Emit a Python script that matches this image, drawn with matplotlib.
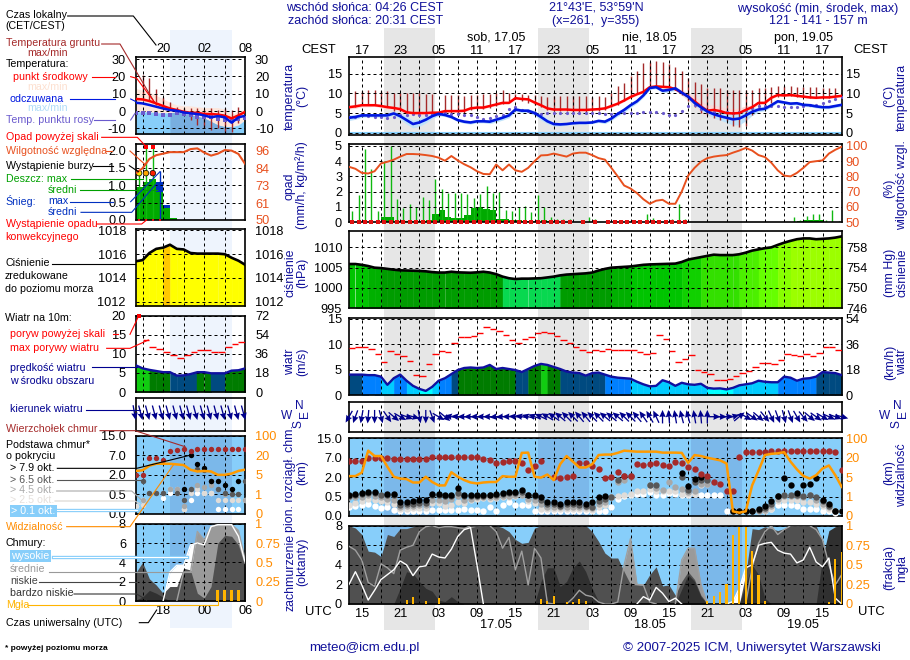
import numpy as np
import matplotlib
matplotlib.use('Agg')
import matplotlib.pyplot as plt
from matplotlib.lines import Line2D
from matplotlib.colors import ListedColormap, BoundaryNorm

nan = float('nan')
plt.rcParams['font.family'] = ['Liberation Sans', 'DejaVu Sans']

# ---------- main chart data, hourly UTC, hour 13 = 13 UTC on 16.05 ----------
hours = np.arange(13, 91)
temp_mean = [6.5,6.7,7,7,7,6.8,6.5,6.3,6,5.2,
             5,5,5,5.1,5.1,5.5,5.5,5.5,5.6,6.2,
             6.4,6.4,6.8,7.2,7.6,7.6,8.8,8.6,8.5,7.7,
             7,6.2,5.9,5.9,5.9,5.8,5.8,5.8,5.9,6,
             6.2,6.8,7.4,8.2,9.1,9.8,10.4,11.6,11.8,11.7,
             11.6,11.1,10.2,9.2,8,6.7,5.6,5.8,5.5,5,
             4.9,5,5.8,6.5,7.6,7.6,8.9,9.6,9.5,9.6,
             9.4,9.2,9,8.9,9,9,9.2,9.4]
temp_feels = [3.8,4,4.4,4.4,4.4,4.4,4.4,4.9,4.2,3.2,
              2.2,2.6,3.3,4.2,4.8,4.5,4,3.2,2.8,2.6,
              2.9,2.9,2.8,3.3,3.8,4.4,5.9,5.6,5.6,5,
              4,2.9,2.2,2.1,2.2,2.4,2.5,2.5,2.6,3,
              2.8,3.6,4.8,5.8,7,8,9.5,11.4,11.6,10.7,
              10.9,11.3,10.2,9.2,7.6,6.5,5.4,4.7,4.2,3.8,
              3.4,3.6,4.4,5.3,5.9,6.1,7,8,7.7,7.4,
              7.5,7.1,7,6.7,6.5,6.5,6.8,7.1]
temp_dew = [4,4,4.4,4.3,4,3.9,3.8,4,4.4,4.6,
            4.8,4.6,4.5,4.8,4.7,4.9,4.8,4.7,4.6,4.5,
            4.1,3.6,3.8,4.3,4.5,6,6.5,5.9,5.5,4.9,
            4.7,5,5.1,5.1,5.1,5,5,5,5,4.9,
            4.8,4.8,4.9,5,4.9,5.1,5.2,5.2,5.3,4.9,
            4.6,4.4,5.5,6.7,7,6,5.4,5.2,5.4,5.2,
            4.9,5.3,5.9,6.4,6.9,6.7,6.9,6.9,6.6,6.5,
            6.5,6.8,7.1,7.1,7.5,8.2,8.7,9]
soil_max = [nan,10.7,10.7,10.8,10.8,10.7,10.5,10.2,10,10,
            10,10,9.9,9.9,nan,9.5,9.5,9.5,9.4,9.6,
            9.6,9.8,9.8,10,11,10,9.9,9.8,9.6,9.5,
            9.4,9.2,9.3,9.3,9.3,9.3,9.3,9.3,9.2,9.3,
            9.1,10,12,12.6,14.5,15.7,17.7,18,18.3,18,
            17.6,16.7,15.7,14,13,12.3,11.5,11.4,11.3,11,
            11,10.9,10.9,11,11.3,11.5,11.6,11.8,11.9,11.9,
            11.7,11.6,11.7,11.6,11.5,11.5,11.4,nan]
soil_min = [nan,6.6,7,7,7,6.8,6.5,5.5,5.5,5,
            4.5,4.5,4.5,4.6,nan,5,5,5,5,5.7,
            6,6,6.3,6.8,7.2,8,8.5,8,7.5,7,
            6.5,5.7,5.4,5.4,5.4,5.3,5.3,5.3,5.4,5.5,
            5.8,6.5,7,8,9,9.8,10.4,11.5,11.7,11.6,
            11.5,11,9.5,8,6.5,5,4.6,3.8,3.2,3,
            1.8,1.5,1.8,4.5,6,6.5,7.6,9,9.3,9.3,
            9.2,9,8.9,8.8,8.8,8.8,9,nan]
mean_spread = [.5,.5,.4,.4,.3,.4,.5,.5,.5,.5,
               .4,.3,.3,.3,.3,.3,.3,.3,.3,.3,
               .3,.3,.3,.3,.3,.3,.3,.3,.3,.4,
               .4,.4,.3,.3,.3,.3,.3,.3,.3,.3,
               .3,.3,.3,.3,.3,.3,.3,.3,.3,.3,
               .3,.4,.7,1.0,1.3,1.5,1.5,1.3,1.2,1.2,
               1.2,1.3,1.0,.6,.4,.3,.3,.3,.3,.3,
               .3,.3,.3,.3,.3,.3,.3,.3]
feels_spread = [.7,.6,.5,.4,.4,.4,.4,.4,.8,1,
                1,1,.8,.6,.5,.4,.4,.4,.4,.4,
                .4,.4,.5,.6,.6,.6,.5,.5,.5,.6,
                .8,.6,.5,.4,.3,.3,.3,.3,.3,.4,
                .5,.5,.6,.6,.6,.5,.5,.4,.4,.5,
                .6,.5,.5,.6,.7,.8,.8,.9,1,1.2,
                1.4,1.6,1.4,.9,.6,.5,.4,.4,.4,.4,
                .4,.4,.4,.4,.4,.4,.4,.4]
rain_mean = [0,0,0,0,0,.3,.3,.05,.05,.05,
             .05,.05,.1,.5,.8,.35,.25,.25,.45,.9,
             1,.85,.8,.2,.2,.15,.1,.05,.05,0,
             .1,.05,.02,0,0,0,0,0,0,0,
             0,0,.02,.03,.02,.02,.02,.05,.03,0,
             .02,.02,.02,0,0,0,0,0,0,0,
             0,0,0,0,0,0,0,0,0,.02,
             .08,.12,.15,.15,.03,0,0,0]
rain_max = [.7,1.8,4.8,3.5,.75,4,5,1.5,.95,1.2,
            1,1.65,1.45,2.8,2.2,1.9,1.9,1.9,1.85,1.6,
            1.85,2.4,1.9,2,.8,.7,1,1.05,.65,1.8,
            1,.3,.2,.2,.2,0,0,.3,.2,0,
            0,0,0,.05,.05,.05,.5,.25,.05,0,
            .2,1.2,.2,0,0,0,0,0,0,0,
            0,0,0,0,0,0,0,0,0,.35,
            .1,.4,.5,.55,.15,.8,.05,0]
convective = [1,1,1,1,1,1,1,1,1,1,
              1,1,1,1,1,1,1,1,1,1,
              1,1,1,1,1,1,1,1,1,1,
              1,1,1,1,1,0,1,0,1,0,
              1,1,1,1,1,1,1,1,1,1,
              1,1,1,0,0,0,0,0,0,0,
              0,0,0,0,0,0,0,0,0,0,
              0,0,0,0,0,0,0,0]
humidity = [86.3,85,82.3,81.9,83.4,88.5,89.6,91,93,94.7,
            94.7,94.5,94,93.4,92.3,90.3,93.4,90.5,88,86,
            83.4,81.6,81.4,87.8,84,87.8,84,83,85.6,90,
            93.8,94,95,94,93,95,95.6,95.6,94,92,
            91,85.6,80,74,72,69,65,62,64,64.6,
            62,62,70,80.5,85.6,89.6,92,93,93.6,94,
            95.6,97,98.7,97,94,92.7,89,84,80.5,80,
            82.3,85.6,89.4,90,90.5,95,97.5,99.5]
pressure = [1005.9,1005.9,1005.7,1005.4,1005,1004.9,1004.7,1004.5,1004.35,1004.3,
            1004.25,1004.2,1004.1,1003.9,1003.8,1003.8,1004,1003.85,1003.8,1003.75,
            1003.85,1004,1003.8,1003.4,1002.8,1002.4,1002.2,1002.3,1002.3,1002.35,
            1002.4,1002.6,1002.8,1003.1,1003.3,1003.4,1003.5,1003.6,1003.8,1004.3,
            1004.7,1005,1005.1,1005.2,1005.3,1005.5,1005.7,1005.8,1005.85,1005.9,
            1005.95,1006,1006.4,1007,1007.3,1007.6,1007.9,1008.2,1008.1,1008.1,
            1008.1,1008.3,1008.7,1009.2,1009.5,1009.8,1010,1010.6,1011.15,1011.6,
            1012,1012.2,1012.2,1012,1012.1,1012.2,1012.4,1012.7]
wind = [4,4,4,3.9,3.9,3.6,2,3.3,4,2.8,
        1.8,1.2,.8,1.6,2.8,3.3,4.1,4.9,5.3,5.4,
        5.3,5.4,5.9,5.1,5.3,5.1,4.9,4.5,5.1,5.7,
        6.1,5.9,5.5,5.1,4.6,4.4,4.3,3.8,4.3,4.4,
        4,3.6,3.4,3.3,3.2,2.6,2.1,1.7,1.8,2.9,
        2.5,1.8,2.4,2.1,2,2.2,1.4,1.25,1.3,1.1,
        1.4,1.9,2.1,2.3,2.8,2.6,2.5,2.5,3.6,3.4,
        2.8,3.2,3.3,3.6,4.5,4.4,4.3,3.9]
gust = [9.2,9.4,9.4,9,8,6.45,8.55,8,7.6,6.6,
        4,3.7,6,8,8.6,8.4,10.2,11.4,11.4,11.6,
        12.2,13.4,13,12.6,11.8,10.8,10.2,11,11.4,12.2,
        12.4,12.2,11.6,10.8,10.2,9.4,8.8,8.4,8.8,8.7,
        9,8.75,8.8,8.8,8.8,8.4,8,8.2,11.8,11,
        8.6,6.45,7,7.8,4.9,4.5,4.1,2.9,2.9,3.1,
        3.7,4.3,4.7,5.5,6.25,6.25,6.05,6.8,8,7.8,
        7.6,8,7.6,8.2,9.4,9.4,8.8,8.6]
wind_dir = [30,20,10,5,0,345,325,310,300,290,
            285,350,0,340,300,310,100,95,90,90,
            90,90,90,85,85,90,95,100,105,110,
            115,120,125,130,135,135,140,140,135,135,
            130,130,130,135,135,140,145,150,155,180,
            175,170,165,165,170,175,180,270,270,265,
            255,230,300,305,310,320,335,340,345,340,
            330,320,310,305,300,295,290,285]
cloud_top = [6.1,6.1,6.1,7,7,7,7,6.7,6.7,6.7,
             6.7,6.7,6.8,7.3,7.3,7.3,7.3,7.3,7.3,7.4,
             7.3,6.7,6.3,5.7,5.9,6.1,6.1,5.7,3.9,4.8,
             6.1,nan,2.1,1.9,2.1,2.4,5.6,5.6,4.8,4.1,
             1.9,2.1,3.4,2.4,2.4,5.4,5,5.5,5.7,5,
             4.9,5.8,5.6,4.6,4,2.8,2.3,1.6,1.45,.9,
             .9,7.3,9.3,9.3,9.5,9.5,9.9,9.9,9.9,9.9,
             9.9,9.9,9.9,9.9,9.9,9.9,9.3,3.9]
base_79 = [.66,.71,.81,.86,.86,nan,.71,.71,.35,.36,
           .38,.41,.41,.71,.71,.6,.66,1.17,.66,.66,
           .66,.66,.66,.71,.81,.86,.86,1.02,.66,.6,
           .5,.36,.36,.31,.36,.36,.35,.31,.36,.48,
           .55,nan,nan,nan,nan,nan,nan,nan,nan,nan,
           nan,nan,3,1.3,1.82,2.1,nan,nan,nan,nan,
           .12,.12,.12,.13,.19,.25,.38,.55,1.95,1.4,
           .75,1.4,1.5,1.95,.41,.32,.13,.13]
base_65 = [.58,.6,.7,.75,.75,.6,.6,.6,.28,.3,
           .32,.34,.34,.6,.6,.52,.58,.8,.58,.58,
           .58,.58,.6,.62,.7,.75,.75,.85,.6,.55,
           .4,.3,.3,.26,.3,.3,.29,.26,.24,.38,
           .45,.5,1.8,2.4,2.4,nan,nan,1.4,1.4,nan,
           nan,nan,2.1,1.0,1.6,1.8,1.8,nan,nan,nan,
           .12,.12,.12,.13,.16,.2,.32,.52,.62,.62,
           .62,.55,.65,.48,.38,.27,.13,.13]
base_45 = [.5,.5,.5,.6,.55,.5,.45,.4,.24,.25,
           .27,.28,.28,.4,.4,.38,.45,.55,.42,.45,
           .5,.5,.5,.5,.55,.55,.6,.6,.45,.4,
           .3,.24,.24,.22,.24,.24,.24,.22,.2,.3,
           .35,.5,1.6,1.75,2.1,nan,nan,1.4,1.2,1,
           1.6,1.25,1.05,.85,.9,1.5,1.5,nan,nan,nan,
           .12,.12,.12,.12,.14,.16,.25,.45,.55,.55,
           .55,.5,.6,.42,.3,.22,.12,.12]
base_25 = [.28,.33,.39,.44,.4,.39,.37,.31,.19,.19,
           .2,.21,.21,.33,.33,.27,.28,.35,.33,.41,
           .45,.46,.45,.46,.5,.5,.55,.6,.38,.33,
           .19,.18,.18,.17,.18,.18,.18,.17,.16,.22,
           .28,.5,.52,.6,.72,.9,.95,1.1,.9,.9,
           .9,.9,.72,.72,.72,1.4,1.45,nan,nan,nan,
           .12,.12,.12,.12,.13,.14,.18,.38,.41,.41,
           .41,.35,.35,.3,.25,.18,.12,.12]
base_01 = [.23,.26,.28,.31,.25,.21,.23,.15,.12,.12,
           .12,.12,.12,.15,.15,.15,.15,.15,.17,.15,
           .15,.14,.23,.12,.28,.36,.29,.28,.28,.12,
           .12,.12,.12,.12,.12,.12,.12,.12,.12,.12,
           .12,.23,.43,.55,.6,.73,.73,.86,.6,.6,
           .76,.73,.66,.66,.71,.66,.66,.66,.66,.13,
           .13,.13,nan,nan,nan,.17,.19,.28,.29,.29,
           .26,.19,.19,.17,.14,.14,.09,nan]
visibility = [5.8,5.8,8.5,49,27,27,13,5.3,4.7,4.6,
              3.9,3.9,5.3,4,3.3,3.3,8.8,5.3,4.4,3.9,
              3.7,3.9,4,4,5.8,5.3,5.3,40,41,5.3,
              4.9,7,4.4,15,27,17,12.5,12.5,15,31,
              33,33,40,49,47,45,45,45,45,41,
              41,41,40,16,31,27,20,19,18,15.5,
              .24,.17,.24,3.3,10,31,36,38,43,17,
              11,6,4.7,6.5,11.7,14,6.5,3]
cover_high = [2,3.3,1.95,.4,1.4,2.5,3,3.5,4.4,4,
              2.9,3.8,3.9,5.1,4.8,4.7,5.6,6.9,7.6,7.8,
              4,0,0,0,0,0,0,0,0,0,
              0,0,0,0,0,0,0,0,0,0,
              0,0,0,0,0,0,.75,.4,1.7,1.1,
              .25,.6,0,0,0,0,0,0,0,0,
              .25,1.6,3.7,4,6,6.2,6.3,5.5,5.2,5.1,
              4.2,4.5,5.8,4.3,3.8,4.7,.6,0]
cover_mid = [5.9,5.5,4.5,2.2,1.8,4.1,3.7,3.1,5.5,5.8,
             6,7.4,7.9,8,7.8,7.9,7.9,7.8,7.7,8,
             8,8,8,7.4,5.7,6.8,3.5,5.4,1.95,5.7,
             4.7,.1,0,0,0,.6,1.4,.9,.75,.2,
             0,0,.2,4,6.7,2,1.95,.2,0,0,
             0,0,4.5,5.7,5.7,2,0,0,0,0,
             0,0,0,3.7,6.2,7.4,8,7.1,7.6,8,
             8,8,8,7.6,6.6,4,1.95,3]
cover_low = [8,7.76,7.1,5.4,5.3,4.85,7.1,6.9,7.7,7.7,
             7.9,8,8,8,8,8,8,8,8,7.8,
             7.95,8,8,8,7.8,7.4,6.6,6.2,6.3,7.76,
             8,8,8,8,8,8,8,8,7.4,6.4,
             5.2,4.7,4.7,3.3,2,1.95,1.9,3,3.8,1.85,
             1.95,.9,2.3,3.3,2.5,.9,.05,0,0,0,
             0,0,3,7.7,7.6,7.9,7.7,7.5,7.7,8,
             8,8,8,8,6.4,4.7,7.1,7.9]
cover_vlow = [0,0,0,0,0,0,0,0,1.6,3.3,
              3.1,2.3,1.6,1.3,.4,.25,.75,.25,0,0,
              0,0,0,0,0,0,0,0,0,0,
              2.3,3.7,3.7,1.8,2.3,3.7,4.4,3.3,1.6,.25,
              0,0,0,0,0,0,0,0,0,0,
              0,0,1.5,3,2.3,.75,0,0,0,0,
              0,0,2,4,3,.6,0,0,0,0,
              0,0,0,0,4.7,7.5,7.9,8]
fog = [0,0,0,0,0,0,0,0,0,.05,
       .09,0,.04,0,.08,0,0,0,0,0,
       0,0,0,0,0,0,0,0,0,0,
       .07,.04,.1,0,.02,.03,.07,.04,0,0,
       0,0,0,0,0,0,0,0,0,0,
       0,0,0,0,0,0,.04,.1,.15,.25,
       .88,.98,.98,.68,.37,.04,0,0,0,0,
       0,0,0,0,0,.03,.58,.67]
main_ticks = [15, 21, 27, 33, 39, 45, 51, 57, 63, 69, 75, 81, 87]
local_labels = ['17','23','05','11','17','23','05','11','17','23','05','11','17']
utc_labels = ['15','21','03','09','15','21','03','09','15','21','03','09','15']
nights = [(18.52, 26.43), (42.52, 50.45), (66.5, 74.45)]

# ---------- left (legend) chart data, hourly UTC ----------
l_hours = np.arange(14, 31)
l_temp = [7,6.7,5.8,4.4,2.9,1.5,.6,-.4,-1,-1,-1.7,-1.7,-2,-2.7,-4.2,-2.5,-.4]
l_feels = [4.8,4.4,3.5,2.5,1.5,.6,.2,-.8,-1.3,-1.7,-2.5,-3.6,-2.9,-3.6,-6.7,-3.6,-2.7]
l_dew = [-1.3,-1.3,-1.3,-1.7,-2.3,-2.3,-1.3,-1.7,-2.3,-3.6,-3.6,-3.6,-4.8,-5.2,-5.6,-4.8,-3.8]
l_temp_top = [13,12,11,9,7,5,3.5,3,3,2.5,2,2,2,1,-2,0,1]
l_feels_top = [-.4,-.4,-.4,-1,-1,-1,-.5,-1.5,-2,-3,-4,-6,-8,-9,-9,-8,-5]
l_soil_hours = [15,16,17,18,19,20,21,22,23,24,25,26,27,28,29]
l_soil_max = [20.8,18.8,13,8.3,5.4,2.5,2,2,1.6,1.4,1.6,.6,1.6,.6,2.5]
l_soil_min = [7,6,5,3,1.5,.5,-.5,-5,-8,-10,-11,-10,-13,-12,-7]
l_rain_mean = [.94,1.1,1.17,.82,.34,.05,0,0,0,0,0,0,0,0,0,0,0]
l_snow_mean = [0,0,0,.28,.09,0,0,0,0,0,0,0,0,0,0,0,0]
l_rain_max = [1.35,2.1,2.1,0,0,0,0,0,0,0,0,0,0,0,0,0,0]
l_snow_max = [0,0,0,1.4,0,0,0,0,0,0,0,0,0,0,0,0,0]
l_overscale = [15.5, 16.5]
l_storm_hours = [14.5, 15.5, 16.5]
l_storm_cols = ['#ffe000', '#ffa500', '#ff2000']
l_conv_hours = [14.5, 15.5, 16.5, 17.5]
l_humidity = [81,84.3,90.5,93,94,95,95,95,97,97.5,94.7,92.7,94,96.4,96,93.8,87]
l_pressure = [1015.4,1015.5,1016.1,1016.45,1016.55,1016.8,1016.45,1016.4,1016.1,1016.05,
              1016.05,1016.05,1016.05,1016,1015.7,1015.45,1015.1]
l_wind = [7,6.2,5.8,5.5,5.2,5.2,4.3,4.35,4.7,5.2,5.2,4.9,4.9,4.9,5.6,5.7,6.2]
l_gust = [nan,13.5,11.8,11.4,10.6,9.7,8.9,9.8,10.6,10.9,10.9,10.6,10.6,11.8,12.7,13,nan]
l_gust_over = [14.5]
l_dir = [350,345,345,345,345,345,345,345,345,345,345,345,345,345,345,345,345]
l_top = [2,2,6.3,6.3,5.9,8.6,9.3,9.7,8.6,9.5,9.5,9.5,9.5,9.5,9.5,9.5,9.5]
l_79 = [nan,nan,nan,nan,nan,nan,nan,.9,7,4.8,3.7,1.5,1.5,1.25,.9,1.5,nan]
l_65 = [nan,1.5,.6,.6,.6,nan,.6,.36,.9,3.5,3.3,1.5,.9,.6,.5,.5,1.5]
l_45 = [nan,.36,.6,.6,.6,.9,.9,.2,.9,1.25,1.1,1.25,.95,.55,.5,.5,.36]
l_25 = [.2,.23,nan,nan,nan,.9,.9,.14,.6,.9,.6,.6,.36,.36,.36,.36,.36]
l_01 = [.2,.36,nan,nan,.4,.6,.6,.12,.36,.6,.6,.6,.12,.12,.12,.12,nan]
l_vis = [8,8.5,12,13.5,13.5,13.5,13,12.5,8.9,7.6,8,7.6,5,5,6,8,9]
l_high = [0,0,0,0,0,3,3.7,3.7,5.8,6,5.8,7.7,7.9,7.9,7.9,6.7,3.9]
l_mid = [0,0,0,0,0,0,0,3,3,7.2,6.3,7.7,7.9,7.9,7.9,7.3,4.2]
l_low = [2.9,4,2.3,1.65,.8,1.5,1.5,3.4,3.2,.8,.3,1.5,6,6.8,6.7,5.8,3.5]
l_vlow = [.1,.4,1.1,.8,.4,0,0,0,0,0,0,0,0,0,0,0,0]
l_fog = [0,0,0,0,0,0,0,0,0,0,0,0,.14,.14,.14,.14,0]
l_ticks = [18, 24, 30]
l_local = ['20', '02', '08']
l_utc = ['18', '00', '06']
l_night = (19, 28)

# ---------- helpers ----------
W, H = 910, 660
fig = plt.figure(figsize=(W/100, H/100), dpi=100, facecolor='white')
NAVY = '#10109a'
RED = '#ff0000'
BROWN = '#a52a2a'
ORANGERED = '#e8501e'
ORANGE = '#ff8c00'
PURPLE = '#6a5acd'
SKY = '#87cefa'
SKY_NIGHT = '#7bb8ea'
TS = 9.2

def T(x, y, s, c='k', size=7.7, ha='left', rot=0, **kw):
    fig.text(x/W, 1-y/H, s, color=c, fontsize=size, ha=ha, va='center', rotation=rot, zorder=5, **kw)

def L(pts, c, dy=0, lw=.8):
    xs = [p[0]/3/W for p in pts]
    ys = [1-(p[1]/3+dy)/H for p in pts]
    fig.add_artist(Line2D(xs, ys, color=c, lw=lw, transform=fig.transFigure, zorder=4))

def panel(box, xlim, ylim, xticks, yticks=None, ylabels=None, pad=5):
    l, t, r, b = box
    ax = fig.add_axes([l/W, 1-b/H, (r-l)/W, (b-t)/H])
    ax.patch.set_visible(False)
    ax.set_xlim(*xlim)
    ax.set_ylim(*ylim)
    ax.set_xticks(xticks)
    ax.set_xticklabels([])
    if yticks is not None:
        ax.set_yticks(yticks, ylabels if ylabels else [str(v) for v in yticks])
    else:
        ax.set_yticks([])
    ax.tick_params(length=0, labelsize=TS, pad=pad)
    ax.set_axisbelow(False)
    ax.grid(True, color='k', lw=.72, ls=(0, (3, 3)))
    for s in ax.spines.values():
        s.set_linewidth(1.2)
    return ax

def right(ax, ylim, ticks, labels, color='k', pad=3):
    tw = ax.twinx()
    tw.patch.set_visible(False)
    tw.set_ylim(*ylim)
    tw.set_yticks(ticks, labels)
    tw.tick_params(length=0, labelsize=TS, pad=pad, labelcolor=color)
    tw.grid(False)
    for s in tw.spines.values():
        s.set_visible(False)
    return tw

def colored_fill(ax, t, v, base, bounds, colors):
    t = np.asarray(t); v = np.asarray(v, float)
    cmap = ListedColormap(colors)
    norm = BoundaryNorm(bounds, len(colors))
    for i in range(len(t)-1):
        c = cmap(norm((v[i]+v[i+1])/2))
        ax.fill_between(t[i:i+2], v[i:i+2], base, color=c, lw=.3, zorder=1)

def arrows(ax, t, deg, pivot, y, length):
    d = np.deg2rad(np.asarray(deg, float))
    ax.quiver(t, np.full(len(t), y), -np.sin(d), -np.cos(d), angles='uv', units='dots',
              scale_units='dots', scale=1/length, width=1.3, headwidth=5, headlength=5.5,
              headaxislength=5, pivot=pivot, color='#00008b', clip_on=False, zorder=3)

km_pts = [0, .5, 2, 7, 15]
vis_pts = [0, 1, 5, 20, 100]
idx_pts = [0, 1, 2, 3, 4]
def f_km(v): return np.interp(v, km_pts, idx_pts)
def g_km(v): return np.interp(v, idx_pts, km_pts)
def f_vis(v): return np.interp(v, vis_pts, idx_pts)
def g_vis(v): return np.interp(v, idx_pts, vis_pts)

def cover_draw(ax, t, hi, mi, lo, vl):
    t = np.asarray(t)
    ax.set_facecolor(SKY); ax.patch.set_visible(True)
    ax.fill_between(t, 0, hi, color='white', lw=0, zorder=1.1)
    ax.fill_between(t, 0, mi, color='#9a9a9a', lw=0, zorder=1.2)
    ax.fill_between(t, 0, lo, color='#505050', lw=0, zorder=1.3)
    ax.fill_between(t, 0, vl, color='#303030', lw=0, zorder=1.4)
    for arr, c in ((mi, '#a0a0a0'), (hi, 'white')):
        a = np.asarray(arr, float)
        keep = (a > 0) | (np.r_[a[1:], 0] > 0) | (np.r_[0, a[:-1]] > 0)
        ax.plot(t, np.where(keep, a, nan), color=c, lw=1, zorder=3)

def base_draw(ax, t, series, s):
    for vals, c in zip(series, ['white', '#e0dcd8', '#a8a8a8', '#585858', 'black', BROWN]):
        ax.scatter(t, vals, s=s, color=c, lw=0, zorder=3)

# ---------- background night bands ----------
bg = fig.add_axes([349/W, 1-630/H, (841.7-349)/W, 602/H]); bg.set_xlim(13, 90); bg.axis('off')
for a, b in nights:
    bg.axvspan(a, b, color='#e6e6e6', lw=0)
bgl = fig.add_axes([135.7/W, 1-628/H, (245.3-135.7)/W, 598/H]); bgl.set_xlim(14, 30); bgl.axis('off')
bgl.axvspan(*l_night, color='#eef4fd', lw=0)

# ---------- main panels ----------
X = (13, 90)
g3 = list(range(15, 90, 3))
RX0, RX1 = 349, 841.7

# temperature
ax = panel((RX0, 57, RX1, 135), X, (-.6, 19.3), g3, [0, 5, 10, 15])
tm, tf, sm = np.array(temp_mean), np.array(temp_feels), np.array(mean_spread)
fs = np.array(feels_spread)
ax.fill_between(hours, tm-sm, tm+sm, color='#fcd9d9', lw=0, zorder=1)
ax.fill_between(hours, tf-fs, tf+fs, color='#bfe3fb', lw=0, zorder=1.1)
ax.axhline(0, color=SKY, lw=1.5, zorder=1)
ax.vlines(hours, soil_min, soil_max, color=BROWN, lw=1, zorder=2.2)
ax.plot(hours, temp_dew, ls='', marker='o', ms=2.3, color=PURPLE, mew=0, zorder=3)
ax.plot(hours, temp_mean, color=RED, lw=1.8, zorder=3.1)
ax.plot(hours, temp_feels, color='#0018e0', lw=1.9, zorder=3.2)
right(ax, (-.6, 19.3), [0, 5, 10, 15], ['0', '5', '10', '15'])
sec = ax.secondary_xaxis('top')
sec.set_xticks(main_ticks, local_labels)
sec.tick_params(length=0, labelsize=9.2, pad=0)
sec.spines['top'].set_visible(False)

# precipitation
rt = 5.11
ax = panel((RX0, 144.3, RX1, 222), X, (0, rt), g3, [0, 1, 2, 3, 4, 5])
ax.bar(hours, rain_mean, width=1, align='edge', color='#00aa00', lw=0, zorder=1)
ax.vlines(hours+.5, 0, rain_max, color='#10b810', lw=1, zorder=1.5)
ax.scatter(hours[np.array(convective) > 0]+.5, np.zeros(int(np.sum(convective))), s=5, marker='s',
           color='#e01010', lw=0, zorder=4, clip_on=False)
tw = right(ax, (50, 50+rt*10), [50, 60, 70, 80, 90, 100], ['50', '60', '70', '80', '90', '100'], ORANGERED)
tw.plot(hours, humidity, color=ORANGERED, lw=1.4)

# pressure
p_bounds = [990, 1003, 1004.9, 1005.4, 1006.3, 1007.5, 1008.5, 1009.5, 1010.4, 1011.5, 1013, 1016.65, 1020]
p_colors = ['#08d850', '#009c00', '#00b000', '#00c400', '#10d000', '#33e000', '#4cf000', '#66ff00',
            '#88ff00', '#9cff00', '#ffff00', '#ffc800']
pyl = (995, 1014.1)
ax = panel((RX0, 230.7, RX1, 308.3), X, pyl, g3, [995, 1000, 1005, 1010])
colored_fill(ax, hours, pressure, 995, p_bounds, p_colors)
ax.plot(hours, pressure, color='k', lw=1.9, zorder=3)
right(ax, pyl, [995, 1000, 1005, 1010], ['746', '750', '754', '758'])

# wind
w_bounds = [0, 1.5, 3, 4, 5, 6, 40]
w_colors = ['#00ffff', '#00ccff', '#0080ff', '#004a80', '#007c00', '#11cc11']
wyl = (0, 15.05)
ax = panel((RX0, 318.3, RX1, 395), X, wyl, g3, [0, 5, 10, 15])
colored_fill(ax, hours, wind, 0, w_bounds, w_colors)
ax.plot(hours, wind, color='#1010a0', lw=1.7, zorder=3)
ax.hlines(gust, hours, hours+1, color=RED, lw=1, zorder=3)
right(ax, wyl, [0, 5, 10, 15], ['0', '18', '36', '54'])

# wind direction
ax = panel((RX0, 401.7, RX1, 431.7), X, (-1, 1), g3)
ax.set_yticks([])
arrows(ax, hours, wind_dir, 'mid', 0, 13.5)

# cloud base / visibility
ax = panel((RX0, 438.3, RX1, 516), X, (0, 15), g3)
ax.set_yscale('function', functions=(f_km, g_km))
ax.set_yticks(km_pts, ['0.0', '0.5', '2.0', '7.0', '15.0'])
ax.minorticks_off()
ax.set_ylim(0, 15)
ax.set_facecolor(SKY); ax.patch.set_visible(True)
for a, b in nights:
    ax.axvspan(a, b, color=SKY_NIGHT, lw=0, zorder=.5)
base_draw(ax, hours, [base_01, base_25, base_45, base_65, base_79, cloud_top], 21)
tw = right(ax, (0, 100), [0, 1], ['0', '1'], ORANGE)
tw.set_yscale('function', functions=(f_vis, g_vis))
tw.set_yticks(vis_pts, ['0', '1', '5', '20', '100'])
tw.minorticks_off()
tw.set_ylim(0, 100)
tw.plot(hours, visibility, color='#ff9a00', lw=1.8)

# cloud cover / fog
ax = panel((RX0, 525.7, RX1, 604), X, (0, 8), g3, [0, 2, 4, 6, 8])
cover_draw(ax, hours, cover_high, cover_mid, cover_low, cover_vlow)
for a, b in nights:
    ax.axvspan(a, b, color=SKY_NIGHT, lw=0, zorder=.5)
ax.set_xticks(main_ticks + [t for t in g3 if t not in main_ticks])
ax.set_xticklabels(utc_labels + ['']*(len(g3)-len(main_ticks)))
ax.tick_params(axis='x', labelsize=9.2, pad=3)
tw = right(ax, (0, 1), [0, .25, .5, .75, 1], ['0', '0.25', '0.5', '0.75', '1'], ORANGE)
tw.bar(hours, fog, width=.32, color='#ffb400', lw=0)

# ---------- left panels ----------
LX = (14, 30)
LL, LR = 135.7, 245.3
lg = [15, 18, 21, 24, 27]
ly = (-13.4, 31)
ax = panel((LL, 57.3, LR, 134.3), LX, ly, lg, [-10, 0, 10, 20, 30], pad=7)
ax.fill_between(l_hours, l_feels_top, l_temp_top, color='#fde6dc', lw=0, zorder=1)
ax.fill_between(l_hours, -13.4, l_feels_top, color=SKY, lw=0, zorder=1.1)
ax.fill_between(l_hours, -13.4, l_feels_top, where=(l_hours >= l_night[0]) & (l_hours <= l_night[1]),
                color='#78aee0', lw=0, zorder=1.2)
ax.vlines(l_soil_hours, l_soil_min, l_soil_max, color=BROWN, lw=1, zorder=2.2)
ax.scatter(l_hours, l_dew, s=7, marker='s', color=PURPLE, lw=0, zorder=3)
ax.plot(l_hours, l_temp, color=RED, lw=1.8, zorder=3.1)
ax.plot(l_hours, l_feels, color='#0018e0', lw=1.8, zorder=3.2)
right(ax, ly, [-10, 0, 10, 20, 30], ['-10', '0', '10', '20', '30'], pad=7)
sec = ax.secondary_xaxis('top')
sec.set_xticks(l_ticks, l_local)
sec.tick_params(length=0, labelsize=9.2, pad=1.5)
sec.spines['top'].set_visible(False)

ry = (0, 2.2)
ax = panel((LL, 143.7, LR, 220), LX, ry, lg, [0, .5, 1, 1.5, 2], ['0.0', '0.5', '1.0', '1.5', '2.0'], pad=7)
ax.bar(l_hours, l_rain_mean, width=1, align='edge', color='#00aa00', lw=0, zorder=1)
ax.bar(l_hours, l_snow_mean, bottom=l_rain_mean, width=1, align='edge', color='#0030c0', lw=0, zorder=1)
ax.vlines(l_hours+.5, 0, l_rain_max, color='#10b810', lw=1, zorder=1.5)
ax.vlines(l_hours+.5, 0, l_snow_max, color='#0030c0', lw=1, zorder=1.5)
ax.scatter(l_overscale, [2.1]*len(l_overscale), s=8, marker='s', color=RED, lw=0, zorder=4)
ax.scatter(l_storm_hours, [1.35]*3, s=16, c=l_storm_cols, edgecolors='k', linewidths=.5, zorder=4)
ax.scatter(l_conv_hours, [0]*4, s=4, marker='s', color='#e01010', lw=0, zorder=4, clip_on=False)
tw = right(ax, (50, 50+2.2*23), [50, 61, 73, 84, 96], ['50', '61', '73', '84', '96'], ORANGERED, pad=7)
tw.plot(l_hours, l_humidity, color=ORANGERED, lw=1.5)

py = (1011.63, 1018.1)
ax = panel((LL, 229.3, LR, 306), LX, py, lg, [1012, 1014, 1016, 1018], pad=7)
colored_fill(ax, l_hours, l_pressure, 1011.63, p_bounds, p_colors)
ax.plot(l_hours, l_pressure, color='k', lw=1.9, zorder=3)
right(ax, py, [1012, 1014, 1016, 1018], ['1012', '1014', '1016', '1018'], pad=7)

wy = (0, 20)
ax = panel((LL, 315.7, LR, 392), LX, wy, lg, [0, 5, 10, 15, 20], pad=7)
colored_fill(ax, l_hours, l_wind, 0, w_bounds, w_colors)
ax.plot(l_hours, l_wind, color='#1010a0', lw=1.7, zorder=3)
ax.hlines(l_gust, l_hours, l_hours+1, color=RED, lw=1, zorder=3)
ax.scatter(l_gust_over, [19.8], s=7, marker='s', color=RED, lw=0, zorder=4, clip_on=False)
right(ax, wy, [0, 5, 10, 15, 20], ['0', '18', '36', '54', '72'], pad=7)

ax = panel((LL, 398.3, LR, 430.7), LX, (-1, 1), lg)
ax.set_yticks([])
arrows(ax, l_hours, l_dir, 'tip', -.34, 15)

ax = panel((LL, 435.7, LR, 514), LX, (0, 15), lg)
ax.set_yscale('function', functions=(f_km, g_km))
ax.set_yticks(km_pts, ['0.0', '0.5', '2.0', '7.0', '15.0'])
ax.minorticks_off()
ax.set_ylim(0, 15)
ax.tick_params(pad=7)
ax.set_facecolor(SKY); ax.patch.set_visible(True)
ax.axvspan(*l_night, color=SKY_NIGHT, lw=0, zorder=.5)
base_draw(ax, l_hours, [l_01, l_25, l_45, l_65, l_79, l_top], 15)
tw = right(ax, (0, 100), [0, 1], ['0', '1'], ORANGE, pad=7)
tw.set_yscale('function', functions=(f_vis, g_vis))
tw.set_yticks(vis_pts, ['0', '1', '5', '20', '100'])
tw.minorticks_off()
tw.set_ylim(0, 100)
tw.plot(l_hours, l_vis, color='#ff9a00', lw=1.8)

ax = panel((LL, 523.7, LR, 601), LX, (0, 8), lg, [0, 2, 4, 6, 8], pad=7)
cover_draw(ax, l_hours, l_high, l_mid, l_low, l_vlow)
ax.axvspan(*l_night, color=SKY_NIGHT, lw=0, zorder=.5)
extra = [t for t in lg if t not in l_ticks]
ax.set_xticks(l_ticks + extra)
ax.set_xticklabels(l_utc + ['']*len(extra))
ax.tick_params(axis='x', labelsize=9.2, pad=3)
tw = right(ax, (0, 1), [0, .25, .5, .75, 1], ['0', '0.25', '0.5', '0.75', '1'], ORANGE, pad=7)
tw.bar(l_hours, l_fog, width=.42, color='#ffb400', lw=0)

# ---------- header and footer ----------
T(286, 8, 'wschód słońca: 04:26 CEST', NAVY, 9)
T(288, 21, 'zachód słońca: 20:31 CEST', NAVY, 9)
T(596, 8, "21°43'E, 53°59'N", NAVY, 9, ha='center')
T(596, 21, '(x=261,  y=355)', NAVY, 9, ha='center')
T(818, 9, 'wysokość (min, środek, max)', NAVY, 9, ha='center')
T(818, 21, '121 - 141 - 157 m', NAVY, 9, ha='center')
for tt, s in ((36, 'sob, 17.05'), (60, 'nie, 18.05'), (84, 'pon, 19.05')):
    T(361.7+6.4*(tt-15), 38, s, 'k', 9, ha='center')
for tt, s in ((36, '17.05'), (60, '18.05'), (84, '19.05')):
    T(361.7+6.4*(tt-15), 625, s, 'k', 9.2, ha='center')
T(319, 50, 'CEST', 'k', 9.4, ha='center'); T(871, 50, 'CEST', 'k', 9.4, ha='center')
T(318, 612, 'UTC', 'k', 9.4, ha='center'); T(871, 612, 'UTC', 'k', 9.4, ha='center')
T(309, 648, 'meteo@icm.edu.pl', NAVY, 9.5)
T(623, 648, '© 2007-2025 ICM, Uniwersytet Warszawski', NAVY, 9.6)
T(5, 648, '* powyżej poziomu morza', 'k', 6.0, fontweight='bold')

# axis titles
for x, y, s in ((290, 96, 'temperatura'), (302.5, 96, '(°C)'),
                (290, 186, 'opad'), (302, 185, '(mm/h, kg/m²/h)'),
                (290, 273, 'ciśnienie'), (302, 273, '(hPa)'),
                (290, 362, 'wiatr'), (302, 362, '(m/s)'),
                (290, 479, 'pion. rozciągł. chm.'), (302, 473, '(km)'),
                (290, 572, 'zachmurzenie'), (302, 562, '(oktanty)'),
                (889, 96, '(°C)'), (902, 97, 'temperatura'),
                (889, 188, '(%)'), (902, 185, 'wilgotność wzgl.'),
                (890, 273, '(mm Hg)'), (902, 273, 'ciśnienie'),
                (890, 362, '(km/h)'), (902, 362, 'wiatr'),
                (889, 473, '(km)'), (902, 475, 'widzialność'),
                (889, 567, '(frakcja)'), (902, 568, 'mgła')):
    T(x, y, s, NAVY, 8.9, ha='center', rot=90)
for dx in (0, 598):
    T(287+dx, 416, 'W', NAVY, 8.6, ha='center')
    T(299+dx, 406, 'N', NAVY, 8.6, ha='center')
    T(305+dx, 414, 'E', NAVY, 8.6, ha='center', rot=90)
    T(298+dx, 424, 'S', NAVY, 8.6, ha='center', rot=90)

# legend texts
LX0 = 5.7
for x, y, s, c in ((LX0, 14.7, 'Czas lokalny', 'k'), (LX0, 26, '(CET/CEST)', 'k'),
                   (LX0, 42.7, 'Temperatura gruntu', BROWN), (27.3, 52.7, 'max/min', BROWN),
                   (LX0, 64, 'Temperatura:', 'k'), (12.7, 76.7, 'punkt środkowy', RED),
                   (27.3, 86.7, 'max/min', '#fde0d0'), (9.7, 98.7, 'odczuwana', '#0018e0'),
                   (27.3, 108, 'max/min', '#b0dcf8'), (LX0, 120, 'Temp. punktu rosy', PURPLE),
                   (LX0, 137.3, 'Opad powyżej skali', RED), (LX0, 151, 'Wilgotność względna', ORANGERED),
                   (LX0, 165.7, 'Wystąpienie burzy', 'k'), (LX0, 179, 'Deszcz: max', '#00a000'),
                   (48, 190, 'średni', '#00a000'), (LX0, 201, 'Śnieg:', '#0030c0'),
                   (48, 201, 'max', '#0030c0'), (48, 212, 'średni', '#0030c0'),
                   (LX0, 224, 'Wystąpienie opadu', RED), (LX0, 237, 'konwekcyjnego', RED),
                   (5, 263, 'Ciśnienie', 'k'), (5, 276, 'zredukowane', 'k'), (5, 289, 'do poziomu morza', 'k'),
                   (5, 318, 'Wiatr na 10m:', 'k'), (9.7, 334, 'poryw powyżej skali', RED),
                   (9.7, 348, 'max porywy wiatru', RED), (9.7, 368, 'prędkość wiatru', '#000090'),
                   (9.7, 381, 'w środku obszaru', '#000090'), (9.7, 409, 'kierunek wiatru', '#000090'),
                   (LX0, 429, 'Wierzchołek chmur', BROWN), (LX0, 444.7, 'Podstawa chmur*', 'k'),
                   (LX0, 455.7, 'o pokryciu', 'k'), (10, 468.3, '> 7.9 okt.', 'k'),
                   (10, 479.7, '> 6.5 okt.', '#555555'), (10, 490, '> 4.5 okt.', '#aaaaaa'),
                   (10, 500, '> 2.5 okt.', '#e5e0dc'), (LX0, 526.7, 'Widzialność', ORANGE),
                   (LX0, 543.3, 'Chmury:', 'k'), (10, 569, 'średnie', '#999999'),
                   (10, 581, 'niskie', '#444444'), (10, 593, 'bardzo niskie', '#333333'),
                   (LX0, 605, 'Mgła', '#ffb400'), (LX0, 622.7, 'Czas uniwersalny (UTC)', 'k')):
    T(x, y, s, c)
box = dict(facecolor=SKY, edgecolor='none', pad=1)
T(11, 511, '> 0.1 okt.', 'white', bbox=box)
T(11, 556, 'wysokie', 'white', bbox=box)

# leader lines (zoom coordinates /3)
L([(203,48),(400,48),(468,135)], 'k')
L([(305,132),(360,132),(465,310)], BROWN)
L([(275,230),(345,230)], RED); L([(392,230),(410,235),(470,315)], RED)
L([(210,297),(345,297)], '#0018e0'); L([(392,297),(408,305)], '#0018e0')
L([(283,360),(345,360)], PURPLE); L([(392,360),(405,340)], PURPLE)
L([(305,412),(412,412),(437,438)], RED)
L([(318,453),(335,453)], ORANGERED); L([(390,453),(437,495)], ORANGERED)
L([(280,497),(338,497)], 'k'); L([(388,497),(415,515)], 'k')
L([(213,537),(430,537)], '#00a000'); L([(240,570),(470,570)], '#00a000')
L([(210,605),(338,605)], '#0030c0'); L([(392,605),(480,515)], '#0030c0')
L([(243,637),(395,637),(470,550)], '#0030c0')
L([(290,672),(425,672),(440,660)], RED)
D2, D3 = 220, 430
L([(155,132),(405,132)], 'k', D2)
L([(338,343),(355,343)], RED, D2); L([(390,343),(415,290)], RED, D2)
L([(320,385),(390,385),(445,360)], RED, D2)
L([(275,440),(410,440)], '#000090', D2)
L([(258,570),(420,570)], '#000090', D2)
L([(300,632),(405,632),(555,680)], BROWN, D2)
L([(172,115),(410,115),(573,75)], 'k', D3)
L([(170,150),(430,150)], '#555555', D3)
L([(170,183),(395,183),(430,215)], '#aaaaaa', D3)
L([(165,213),(405,213),(420,222)], '#d8d4d0', D3)
L([(165,240),(410,240)], SKY, D3, 2.4); L([(165,240),(410,240)], 'white', D3, .8)
L([(200,290),(390,290),(520,105)], ORANGE, D3)
L([(160,382),(560,382)], SKY, D3, 2.4); L([(160,382),(560,382)], 'white', D3, .8)
L([(147,425),(575,425)], '#999999', D3)
L([(118,457),(365,457)], '#444444', D3); L([(388,457),(410,457)], '#444444', D3)
L([(222,492),(410,492),(440,510)], '#333333', D3)
L([(85,525),(655,525),(655,480)], '#ffb400', D3)
L([(418,578),(445,578),(470,540)], 'k', D3)

fig.savefig('out.png', dpi=100)
